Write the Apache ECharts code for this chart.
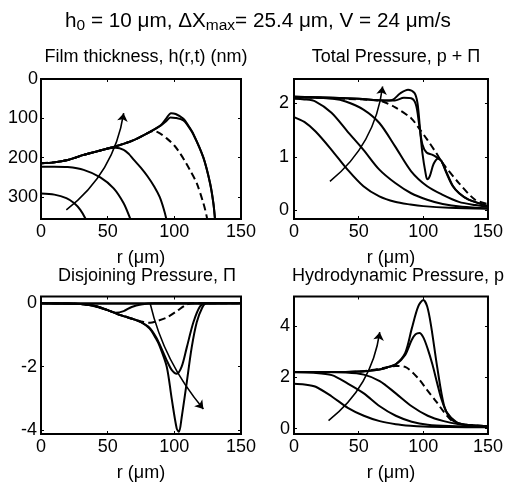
<!DOCTYPE html>
<html>
<head>
<meta charset="utf-8">
<script src="https://cdn.jsdelivr.net/npm/echarts@6/dist/echarts.min.js"></script>
<style>
  html, body { margin: 0; padding: 0; background: #fff; }
  #chart { width: 506px; height: 483px; }
</style>
</head>
<body>
<div id="chart"></div>
<script>
// Radial profiles r (µm) at successive times; the arrow marks time direction.
const rTicks = [0, 50, 100, 150];

// Film thickness h(r,t), nm (axis drawn inverted)
const thickness1 = [[0, 291], [10, 294], [19, 303], [25, 316], [29.5, 333], [33.5, 356], [35, 370]];
const thickness2 = [[0, 223], [10, 223], [20, 224], [32, 231], [44.5, 250], [54.5, 278], [62, 316], [67, 356], [69, 375]];
const thickness3 = [[0, 214], [10, 212], [20, 206], [32, 193], [42, 184], [50, 177], [56, 175], [62, 180], [66, 191], [69.5, 205], [75, 226], [80, 248], [85, 274], [89, 300], [92, 330], [94, 356], [95, 375]];
const thickness4 = [[0, 214], [10, 212], [20, 206], [32, 193], [42, 184], [52, 175], [60, 167], [70, 155], [78, 141], [84.3, 132], [90, 140], [94.3, 151], [100, 169], [104.3, 189], [108, 209], [111.8, 232], [116.8, 265], [121.8, 316], [124.3, 350], [125, 370]];
const thickness5 = [[0, 214], [10, 212], [20, 206], [32, 193], [42, 184], [52, 175], [60, 167], [70, 155], [82, 134], [90, 118], [94, 107], [97, 98], [101, 99], [106.8, 105], [110, 118], [114.3, 141], [121.8, 200], [126.8, 265], [129.3, 316], [130.5, 356], [131, 375]];
const thickness6 = [[0, 214], [10, 212], [20, 206], [32, 193], [42, 184], [52, 175], [60, 167], [70, 155], [82, 134], [90, 117], [94, 100], [97.5, 87], [101, 89], [106.8, 101], [110, 116], [114.3, 140], [121.8, 200], [126.8, 265], [129.3, 316], [130.5, 356], [131, 375]];
const thicknessArrow = [[19, 333], [62, 87]];

// Total pressure p + Π
const total1 = [[0, 1.74], [8, 1.65], [16.7, 1.47], [29, 1.13], [41.4, 0.76], [53.7, 0.45], [66, 0.26], [78, 0.16], [90, 0.11], [100, 0.08], [120, 0.05], [150, 0.03]];
const total2 = [[0, 2.08], [8, 2.07], [16.7, 2.03], [29, 1.82], [41.4, 1.47], [53.7, 1.13], [66, 0.76], [78.3, 0.51], [90.6, 0.32], [103, 0.2], [115, 0.12], [130, 0.07], [150, 0.04]];
const total3 = [[0, 2.1], [15, 2.1], [30, 2.08], [40, 2.03], [53.7, 1.88], [66, 1.63], [78.3, 1.19], [90.6, 0.73], [103, 0.45], [115, 0.29], [127.5, 0.16], [140, 0.1], [150, 0.07]];
const total4 = [[0, 2.12], [20, 2.1], [40, 2.08], [60, 2.06], [68.5, 2.03], [78.3, 1.92], [90.6, 1.72], [95.5, 1.57], [103, 1.32], [110, 1.07], [115, 0.88], [127.5, 0.51], [140, 0.2], [150, 0.12]];
const total5 = [[0, 2.12], [30, 2.1], [50, 2.08], [70, 2.05], [78, 2.05], [85, 2.1], [90.6, 2.09], [94.3, 1.97], [96.8, 1.6], [99.3, 1.23], [102.5, 1.08], [106.7, 1.04], [110.4, 0.99], [114, 0.92], [117.8, 0.72], [122.8, 0.46], [127.7, 0.32], [135, 0.2], [150, 0.08]];
const total6 = [[0, 2.12], [30, 2.1], [50, 2.08], [70, 2.05], [76, 2.06], [82, 2.18], [88.2, 2.25], [93.1, 2.19], [95.5, 2.0], [97.5, 1.5], [99.3, 1.07], [101.7, 0.7], [103, 0.58], [105, 0.64], [108, 0.87], [111.6, 0.97], [114, 0.92], [117.8, 0.7], [122.8, 0.45], [127.7, 0.32], [135, 0.2], [150, 0.08]];
const totalArrow = [[27.8, 0.54], [68.5, 2.31]];

// Disjoining pressure Π
const disjoin1 = [[0, 0], [50, -0.01], [100, -0.01], [150, 0]];
const disjoin2 = [[0, 0], [50, -0.01], [100, -0.01], [150, 0]];
const disjoin3 = [[0, 0], [30, -0.03], [40, -0.1], [50, -0.22], [56, -0.3], [62, -0.25], [68, -0.12], [75, -0.04], [85, 0], [150, 0]];
const disjoin4 = [[0, 0], [20, -0.01], [30, -0.03], [40, -0.08], [50, -0.22], [56.5, -0.33], [63, -0.42], [69, -0.5], [75, -0.58], [81.8, -0.62], [88, -0.55], [94.3, -0.45], [101.8, -0.25], [109.3, -0.04], [114, 0], [150, 0]];
const disjoin5 = [[0, 0], [20, -0.01], [30, -0.03], [40, -0.08], [50, -0.22], [56.5, -0.33], [63, -0.42], [69, -0.5], [75, -0.6], [81.5, -0.78], [86, -1.05], [89, -1.3], [94.3, -1.8], [98, -2.1], [101.8, -2.22], [105.5, -2.0], [109.3, -1.4], [114.3, -0.6], [119.3, -0.1], [124, 0], [150, 0]];
const disjoin6 = [[0, 0], [20, -0.01], [30, -0.03], [40, -0.08], [50, -0.22], [56.5, -0.33], [63, -0.42], [69, -0.5], [75, -0.6], [81.5, -0.8], [86, -1.1], [89, -1.35], [94.3, -2.0], [98, -3.0], [101.8, -3.95], [103.5, -4.05], [105.5, -3.6], [109.3, -2.5], [113, -1.4], [116.8, -0.6], [120.8, -0.15], [124, 0], [150, 0]];
const disjoinArrow = [[81.8, 0], [121.8, -3.33]];

// Hydrodynamic pressure p
const hydro1 = [[0, 1.75], [8, 1.72], [16.8, 1.63], [29.2, 1.25], [41.6, 0.81], [54, 0.5], [66.3, 0.29], [78.7, 0.17], [90, 0.11], [100, 0.08], [120, 0.06], [150, 0.05]];
const hydro2 = [[0, 2.19], [15, 2.17], [29.2, 2.08], [41.6, 1.75], [54, 1.37], [66.3, 0.87], [78.7, 0.5], [91, 0.27], [103.4, 0.15], [120, 0.1], [150, 0.08]];
const hydro3 = [[0, 2.2], [20, 2.2], [40, 2.18], [54, 2.1], [66.3, 1.85], [78.7, 1.37], [91, 0.87], [103.4, 0.5], [115.8, 0.29], [128, 0.17], [140, 0.12], [150, 0.1]];
const hydro4 = [[0, 2.2], [30, 2.2], [50, 2.22], [60, 2.28], [70, 2.37], [78.7, 2.44], [86, 2.4], [96, 1.96], [103, 1.5], [110, 1.05], [116, 0.64], [123, 0.27], [130, 0.17], [140, 0.12], [150, 0.1]];
const hydro5 = [[0, 2.2], [30, 2.2], [50, 2.22], [60, 2.26], [66, 2.3], [72, 2.38], [78.7, 2.5], [86, 2.87], [91, 3.45], [94, 3.67], [97, 3.72], [100, 3.55], [103.4, 3.1], [107, 2.5], [110.8, 1.75], [114, 1.15], [118.3, 0.62], [125.6, 0.25], [135, 0.12], [150, 0.1]];
const hydro6 = [[0, 2.2], [30, 2.2], [50, 2.22], [60, 2.26], [66, 2.3], [72, 2.38], [78.7, 2.5], [86, 2.95], [91, 3.88], [96, 4.75], [100, 5.0], [103, 4.75], [106, 4.0], [110.8, 2.37], [116, 0.9], [121, 0.4], [128, 0.2], [140, 0.12], [150, 0.1]];
const hydroArrow = [[26.7, 0.31], [66.3, 3.75]];

// Panel titles and axis ranges
const panelTitles = ['Film thickness, h(r,t) (nm)', 'Total Pressure, p + \u03a0', 'Disjoining Pressure, \u03a0', 'Hydrodynamic Pressure, p'];
const yTicks = [[0, 100, 200, 300], [0, 1, 2], [-4, -2, 0], [0, 2, 4]];
const yRanges = [[0, 356], [-0.16, 2.45], [-4.12, 0.21], [-0.21, 5.14]];

const FONT = '"Liberation Sans", Arial, Helvetica, sans-serif';
const grids = [
  { left: 41, top: 79, width: 200, height: 140 },
  { left: 294, top: 79, width: 200, height: 140 },
  { left: 41, top: 296.5, width: 200, height: 142.5 },
  { left: 294, top: 296.5, width: 200, height: 142.5 }
];
const yLabelMargin = [3, 5, 4, 4];
const nameGaps = [30, 30, 30, 30];

const xAxes = [], yAxes = [];
grids.forEach((g, i) => {
  const tick = { show: true, inside: true, length: 3, lineStyle: { color: '#000', width: 1 } };
  xAxes.push({
    type: 'value', gridIndex: i, min: 0, max: 150, interval: 50, position: 'bottom',
    axisLine: { show: false, onZero: false }, axisTick: tick, splitLine: { show: false },
    axisLabel: { color: '#000', fontSize: 18, fontFamily: FONT, margin: 4 },
    name: 'r (\u03bcm)', nameLocation: 'middle', nameGap: nameGaps[i],
    nameTextStyle: { color: '#000', fontSize: 18, fontFamily: FONT }
  });
  xAxes.push({
    type: 'value', gridIndex: i, min: 0, max: 150, interval: 50, position: 'top',
    axisLine: { show: false, onZero: false }, axisTick: tick, splitLine: { show: false },
    axisLabel: { show: false }
  });
  yAxes.push({
    type: 'value', gridIndex: i, min: yRanges[i][0], max: yRanges[i][1],
    inverse: i === 0, position: 'left',
    axisLine: { show: false, onZero: false }, splitLine: { show: false },
    axisTick: Object.assign({ customValues: yTicks[i] }, tick),
    axisLabel: { color: '#000', fontSize: 18, fontFamily: FONT, margin: yLabelMargin[i], customValues: yTicks[i] }
  });
  yAxes.push({
    type: 'value', gridIndex: i, min: yRanges[i][0], max: yRanges[i][1],
    inverse: i === 0, position: 'right',
    axisLine: { show: false, onZero: false }, splitLine: { show: false },
    axisTick: Object.assign({ customValues: yTicks[i] }, tick),
    axisLabel: { show: false, customValues: yTicks[i] }
  });
});

function curve(panel, data, dashed) {
  return {
    type: 'line', xAxisIndex: panel * 2, yAxisIndex: panel * 2,
    data: data, showSymbol: false, symbol: 'none', smooth: 0.3, clip: true,
    lineStyle: { color: '#000', width: 2, type: dashed ? [7, 4] : 'solid' },
    z: 3
  };
}
function arrow(panel, pts, bend) {
  return {
    type: 'lines', coordinateSystem: 'cartesian2d', xAxisIndex: panel * 2, yAxisIndex: panel * 2,
    data: [{ coords: pts }], symbol: ['none', 'arrow'], symbolSize: 8,
    lineStyle: { color: '#000', width: 1.6, opacity: 1, curveness: bend },
    z: 4
  };
}

const panels = [
  [thickness1, thickness2, thickness3, thickness4, thickness5, thickness6],
  [total1, total2, total3, total4, total5, total6],
  [disjoin1, disjoin2, disjoin3, disjoin4, disjoin5, disjoin6],
  [hydro1, hydro2, hydro3, hydro4, hydro5, hydro6]
];
const arrows = [thicknessArrow, totalArrow, disjoinArrow, hydroArrow];
const bends = [-0.2, -0.2, -0.12, -0.2];

const series = [];
panels.forEach((set, p) => {
  set.forEach((d, k) => series.push(curve(p, d, k === 3)));
  series.push(arrow(p, arrows[p], bends[p]));
});

const titleCenters = [146, 396, 147, 398];
const titleTops = [48, 48, 267, 267];
const titles = [{
  text: '{n|h}{s|0}{n| = 10 \u03bcm, \u0394X}{s|max}{n|= 25.4 \u03bcm, V = 24 \u03bcm/s}',
  left: 258, top: 9, textAlign: 'center', padding: 0,
  textStyle: {
    fontWeight: 'normal',
    rich: {
      n: { fontSize: 20.7, fontWeight: 'normal', fontFamily: FONT, color: '#000' },
      s: { fontSize: 15.5, fontWeight: 'normal', fontFamily: FONT, color: '#000', padding: [9, 0, 0, 0] }
    }
  }
}];
panelTitles.forEach((t, i) => titles.push({
  text: t, left: titleCenters[i], top: titleTops[i], textAlign: 'center', padding: 0,
  textStyle: { fontSize: 18, fontWeight: 'normal', fontFamily: FONT, color: '#000' }
}));

const chart = echarts.init(document.getElementById('chart'), null, { renderer: 'canvas' });
chart.setOption({
  animation: false,
  backgroundColor: '#fff',
  title: titles,
  grid: grids.map(g => Object.assign({ show: true, borderColor: '#000', borderWidth: 2, backgroundColor: 'transparent', containLabel: false }, g)),
  xAxis: xAxes,
  yAxis: yAxes,
  series: series
});
</script>
</body>
</html>
